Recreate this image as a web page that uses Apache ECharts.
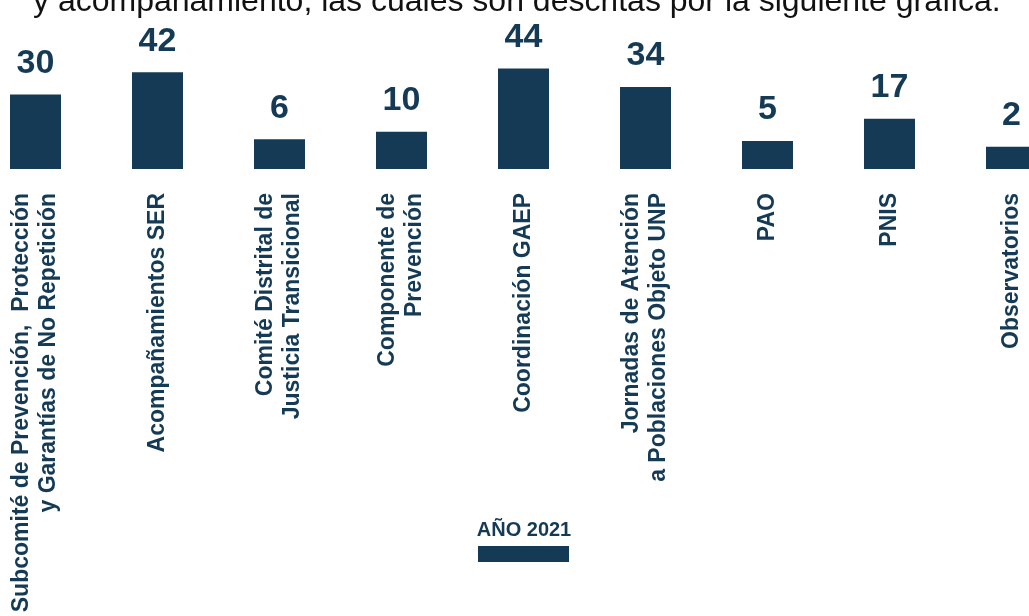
<!DOCTYPE html>
<html>
<head>
<meta charset="utf-8">
<title>Año 2021</title>
<script src="https://cdn.jsdelivr.net/npm/echarts@6/dist/echarts.min.js"></script>
<style>
  html, body { margin: 0; padding: 0; background: #fff; }
  #chart { width: 1029px; height: 616px; }
</style>
</head>
<body>
<div id="chart"></div>
<script>
// datos
const categories = [
  'Subcomité de Prevención,  Protección\ny Garantías de No Repetición',
  'Acompañamientos SER',
  'Comité Distrital de\nJusticia Transicional',
  'Componente de\nPrevención',
  'Coordinación GAEP',
  'Jornadas de Atención\na Poblaciones Objeto UNP',
  'PAO',
  'PNIS',
  'Observatorios'
]
const values2021 = [30, 42, 6, 10, 44, 34, 5, 17, 2]
const seriesName = 'AÑO 2021'
const introText = 'y acompañamiento, las cuales son descritas por la siguiente gráfica.'

const navy = '#143a56'
const fontArial = '"Liberation Sans", Arial, sans-serif'

const chart = echarts.init(document.getElementById('chart'))

const option = {
  animation: false,
  title: [
    {
      text: seriesName,
      left: 524,
      top: 520,
      textAlign: 'center',
      padding: 0,
      textStyle: {
        color: navy,
        fontFamily: fontArial,
        fontWeight: 'bold',
        fontSize: 20
      }
    },
    {
      text: introText,
      left: 33,
      top: -14,
      padding: 0,
      textStyle: {
        color: '#111',
        fontFamily: fontArial,
        fontWeight: 'normal',
        fontSize: 32
      }
    }
  ],
  legend: {
    data: [seriesName],
    left: 478,
    top: 546,
    padding: 0,
    itemWidth: 91,
    itemHeight: 16,
    icon: 'rect',
    selectedMode: false,
    formatter: () => ''
  },
  grid: {
    left: -25.5,
    width: 1098,
    top: 20,
    bottom: 447,
    outerBoundsMode: 'none'
  },
  xAxis: {
    type: 'category',
    data: categories,
    axisLine: { show: false },
    axisTick: { show: false },
    axisLabel: {
      interval: 0,
      rotate: 90,
      margin: 24,
      color: navy,
      fontFamily: fontArial,
      fontWeight: 'bold',
      fontSize: 23,
      lineHeight: 27
    }
  },
  yAxis: {
    type: 'value',
    min: -10,
    max: 70,
    startValue: -10,
    show: false
  },
  series: [
    {
      name: seriesName,
      type: 'bar',
      data: values2021,
      barWidth: 51,
      itemStyle: { color: navy },
      label: {
        show: true,
        position: 'top',
        distance: 14,
        color: navy,
        fontFamily: fontArial,
        fontWeight: 'bold',
        fontSize: 34
      }
    }
  ]
}

chart.setOption(option)
</script>
</body>
</html>
